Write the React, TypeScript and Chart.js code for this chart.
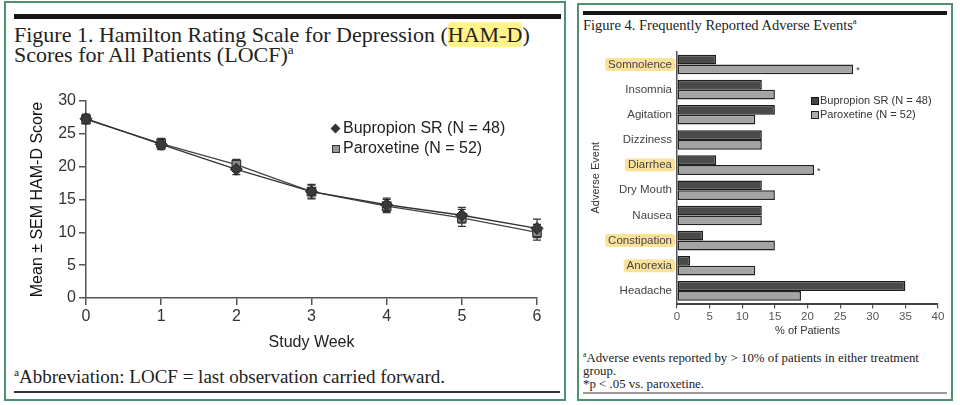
import React, { useEffect, useRef } from 'react';
import Chart from 'chart.js/auto';

// ---------- Figure 1 data ----------
const weeks = ['0', '1', '2', '3', '4', '5', '6'];
const bupropionMean = [27.3, 23.4, 19.6, 16.2, 14.2, 12.6, 10.6];
const bupropionSem = [0.7, 0.8, 0.8, 1.1, 1.0, 1.2, 1.4];
const paroxetineMean = [27.2, 23.5, 20.3, 16.2, 14.0, 12.2, 10.0];
const paroxetineSem = [0.7, 0.8, 0.8, 1.0, 1.0, 1.3, 1.2];
const hamdTicks = [0, 5, 10, 15, 20, 25, 30];

// ---------- Figure 4 data ----------
const events = ['Somnolence', 'Insomnia', 'Agitation', 'Dizziness', 'Diarrhea', 'Dry Mouth', 'Nausea', 'Constipation', 'Anorexia', 'Headache'];
const bupropionPct = [6, 13, 15, 13, 6, 13, 13, 4, 2, 35];
const paroxetinePct = [27, 15, 12, 13, 21, 15, 13, 15, 12, 19];
const significant = [true, false, false, false, true, false, false, false, false, false];
const highlighted = [true, false, false, false, true, false, false, true, true, false];
const pctTicks = [0, 5, 10, 15, 20, 25, 30, 35, 40];

const seriesLabels = ['Bupropion SR (N = 48)', 'Paroxetine (N = 52)'];

const SANS = '"Liberation Sans", Arial, sans-serif';
const SERIF = '"Liberation Serif", "Times New Roman", serif';
const GREEN = '#4e9170';

const errorBarPlugin = {
  id: 'errorBars',
  beforeDatasetsDraw(chart: any) {
    const { ctx } = chart;
    const y = chart.scales.y;
    const sems = [bupropionSem, paroxetineSem];
    ctx.save();
    ctx.strokeStyle = '#333';
    ctx.lineWidth = 1.2;
    chart.data.datasets.forEach((ds: any, di: number) => {
      const meta = chart.getDatasetMeta(di);
      meta.data.forEach((pt: any, i: number) => {
        const v = ds.data[i];
        const e = sems[di][i];
        const top = y.getPixelForValue(v + e);
        const bot = y.getPixelForValue(v - e);
        ctx.beginPath();
        ctx.moveTo(pt.x, top);
        ctx.lineTo(pt.x, bot);
        ctx.moveTo(pt.x - 4, top);
        ctx.lineTo(pt.x + 4, top);
        ctx.moveTo(pt.x - 4, bot);
        ctx.lineTo(pt.x + 4, bot);
        ctx.stroke();
      });
    });
    ctx.restore();
  },
};

const highlightPlugin = {
  id: 'labelHighlight',
  beforeDraw(chart: any) {
    const { ctx } = chart;
    const y = chart.scales.y;
    ctx.save();
    ctx.font = `11.5px ${SANS}`;
    ctx.fillStyle = '#fbe29a';
    events.forEach((label, i) => {
      if (!highlighted[i]) return;
      const py = y.getPixelForTick(i);
      const w = ctx.measureText(label).width;
      const right = y.right - 5;
      ctx.beginPath();
      (ctx as any).roundRect(right - w - 3, py - 6.5, w + 6, 13, 3);
      ctx.fill();
    });
    ctx.restore();
  },
};

const asteriskPlugin = {
  id: 'asterisks',
  afterDatasetsDraw(chart: any) {
    const { ctx } = chart;
    const meta = chart.getDatasetMeta(1);
    ctx.save();
    ctx.font = `9px ${SANS}`;
    ctx.fillStyle = '#333';
    ctx.textBaseline = 'middle';
    meta.data.forEach((bar: any, i: number) => {
      if (!significant[i]) return;
      ctx.fillText('*', bar.x + 3, bar.y + 1);
    });
    ctx.restore();
  },
};

export default function App() {
  const lineRef = useRef<HTMLCanvasElement>(null);
  const barRef = useRef<HTMLCanvasElement>(null);

  useEffect(() => {
    const c1 = new Chart(lineRef.current as HTMLCanvasElement, {
      type: 'line',
      data: {
        labels: weeks,
        datasets: [
          {
            label: seriesLabels[0],
            data: bupropionMean,
            borderColor: '#333',
            borderWidth: 1.3,
            pointStyle: 'rectRot',
            pointRadius: 6,
            pointBackgroundColor: '#3a3a3a',
            pointBorderColor: '#222',
            pointBorderWidth: 1,
            tension: 0,
          },
          {
            label: seriesLabels[1],
            data: paroxetineMean,
            borderColor: '#444',
            borderWidth: 1.3,
            pointStyle: 'rect',
            pointRadius: 6,
            pointBackgroundColor: '#8a8a8a',
            pointBorderColor: '#333',
            pointBorderWidth: 1.2,
            tension: 0,
          },
        ],
      },
      options: {
        responsive: false,
        animation: false,
        devicePixelRatio: 1,
        layout: { padding: { top: 13, right: 23, left: 0, bottom: 0 } },
        plugins: { legend: { display: false }, tooltip: { enabled: false } },
        scales: {
          x: {
            grid: { drawOnChartArea: false, drawTicks: true, tickLength: 7, color: '#555', lineWidth: 1.5 },
            border: { color: '#555', width: 1.5 },
            ticks: { color: '#333', font: { family: SANS, size: 16 }, padding: 2, maxRotation: 0 },
            title: { display: true, text: 'Study Week', color: '#222', font: { family: SANS, size: 16 }, padding: { top: 0, bottom: 0 } },
            afterFit: (s: any) => { s.height = 54; },
          },
          y: {
            min: 0,
            max: 30,
            afterBuildTicks: (s: any) => { s.ticks = hamdTicks.map((v) => ({ value: v })); },
            grid: { drawOnChartArea: false, drawTicks: true, tickLength: 7, color: '#555', lineWidth: 1.5 },
            border: { color: '#555', width: 1.5 },
            ticks: { color: '#333', font: { family: SANS, size: 16 }, padding: 3 },
            title: { display: true, text: 'Mean ± SEM HAM-D Score', color: '#111', font: { family: SANS, size: 16 }, padding: { top: 14, bottom: 0 } },
            afterFit: (s: any) => { s.width = 72; },
          },
        },
      } as any,
      plugins: [errorBarPlugin],
    });

    const c2 = new Chart(barRef.current as HTMLCanvasElement, {
      type: 'bar',
      data: {
        labels: events,
        datasets: [
          {
            label: seriesLabels[0],
            data: bupropionPct,
            backgroundColor: '#4a4a4a',
            borderColor: '#1e1e1e',
            borderWidth: 1.5,
            borderSkipped: false,
            categoryPercentage: 0.78,
            barPercentage: 1,
          },
          {
            label: seriesLabels[1],
            data: paroxetinePct,
            backgroundColor: '#a4a4a4',
            borderColor: '#232323',
            borderWidth: 1.5,
            borderSkipped: false,
            categoryPercentage: 0.78,
            barPercentage: 1,
          },
        ],
      },
      options: {
        indexAxis: 'y',
        responsive: false,
        animation: false,
        devicePixelRatio: 1,
        layout: { padding: { top: 11.5, right: 10, left: 0, bottom: 0 } },
        plugins: { legend: { display: false }, tooltip: { enabled: false } },
        scales: {
          x: {
            min: 0,
            max: 40,
            afterBuildTicks: (s: any) => { s.ticks = pctTicks.map((v) => ({ value: v })); },
            grid: { drawOnChartArea: false, drawTicks: true, tickLength: 5, color: '#555', lineWidth: 1.2 },
            border: { color: '#444', width: 2 },
            ticks: { color: '#555', font: { family: SANS, size: 11.5 }, padding: 1, maxRotation: 0 },
            title: { display: true, text: '% of Patients', color: '#333', font: { family: SANS, size: 11 }, padding: { top: 0, bottom: 7 } },
            afterFit: (s: any) => { s.height = 41.5; },
          },
          y: {
            grid: { drawOnChartArea: false, drawTicks: false },
            border: { color: '#555', width: 1.5 },
            ticks: { color: '#444', font: { family: SANS, size: 11.5 }, padding: 5 },
            title: { display: true, text: 'Adverse Event', color: '#333', font: { family: SANS, size: 11 }, padding: { top: 6, bottom: 0 } },
            afterFit: (s: any) => { s.width = 94; },
          },
        },
      } as any,
      plugins: [highlightPlugin, asteriskPlugin],
    });

    return () => {
      c1.destroy();
      c2.destroy();
    };
  }, []);

  const abs = (o: React.CSSProperties): React.CSSProperties => ({ position: 'absolute', ...o });
  const sup = (t: string) => (
    <span style={{ fontSize: '0.6em', verticalAlign: 'super', lineHeight: 0 }}>{t}</span>
  );

  return (
    <div style={abs({ left: 0, top: 0, width: 960, height: 405, background: '#fff', overflow: 'hidden' })}>
      {/* panels */}
      <div style={abs({ left: 4, top: 1, width: 562, height: 400, border: `2px solid ${GREEN}`, boxSizing: 'border-box' })} />
      <div style={abs({ left: 577, top: 3, width: 376, height: 398, border: `2px solid ${GREEN}`, boxSizing: 'border-box' })} />

      {/* left panel */}
      <div style={abs({ left: 14, top: 14, width: 547, height: 4.5, background: '#151515' })} />
      <div style={abs({ left: 14, top: 25, fontFamily: SERIF, fontSize: 22, lineHeight: '19.5px', color: '#222', whiteSpace: 'nowrap' })}>
        Figure 1. Hamilton Rating Scale for Depression (
        <span style={{ background: '#fff38a', borderRadius: 4 }}>HAM-D</span>)
        <br />
        Scores for All Patients (LOCF){sup('a')}
      </div>
      <canvas ref={lineRef} width={546} height={264} style={abs({ left: 14, top: 88, width: 546, height: 264 })} />
      {/* left legend */}
      <div style={abs({ left: 330, top: 118, fontFamily: SANS, fontSize: 16, lineHeight: '20px', color: '#222', whiteSpace: 'nowrap' })}>
        <div>
          <span style={{ display: 'inline-block', width: 7, height: 7, background: '#333', transform: 'rotate(45deg)', marginLeft: 2, marginRight: 4, verticalAlign: 'middle' }} />
          {seriesLabels[0]}
        </div>
        <div>
          <span style={{ display: 'inline-block', width: 8, height: 8, background: '#999', border: '1px solid #333', boxSizing: 'border-box', marginLeft: 2, marginRight: 3, verticalAlign: 'middle' }} />
          {seriesLabels[1]}
        </div>
      </div>
      <div style={abs({ left: 14, top: 366, fontFamily: SERIF, fontSize: 19, lineHeight: '22px', color: '#222', whiteSpace: 'nowrap' })}>
        {sup('a')}Abbreviation: LOCF = last observation carried forward.
      </div>
      <div style={abs({ left: 14, top: 391, width: 546, height: 1.5, background: '#333' })} />

      {/* right panel */}
      <div style={abs({ left: 583, top: 11, width: 364, height: 3.5, background: '#151515' })} />
      <div style={abs({ left: 583, top: 16, fontFamily: SERIF, fontSize: 14.5, lineHeight: '18px', color: '#222', whiteSpace: 'nowrap' })}>
        Figure 4. Frequently Reported Adverse Events{sup('a')}
      </div>
      <canvas ref={barRef} width={365} height={305} style={abs({ left: 583, top: 40, width: 365, height: 305 })} />
      {/* right legend */}
      <div style={abs({ left: 811, top: 94, fontFamily: SANS, fontSize: 11, lineHeight: '13.5px', color: '#333', whiteSpace: 'nowrap' })}>
        <div>
          <span style={{ display: 'inline-block', width: 8, height: 8, background: '#444', border: '1px solid #111', boxSizing: 'border-box', marginRight: 1, verticalAlign: 'middle' }} />
          {seriesLabels[0]}
        </div>
        <div>
          <span style={{ display: 'inline-block', width: 8, height: 8, background: '#aaa', border: '1px solid #222', boxSizing: 'border-box', marginRight: 1, verticalAlign: 'middle' }} />
          {seriesLabels[1]}
        </div>
      </div>
      <div style={abs({ left: 583, top: 352, width: 364, fontFamily: SERIF, fontSize: 12.85, lineHeight: '13px', color: '#222' })}>
        {sup('a')}Adverse events reported by &gt; 10% of patients in either treatment group.
        <br />
        *p &lt; .05 vs. paroxetine.
      </div>
      <div style={abs({ left: 583, top: 392, width: 364, height: 2, background: '#999' })} />
    </div>
  );
}
